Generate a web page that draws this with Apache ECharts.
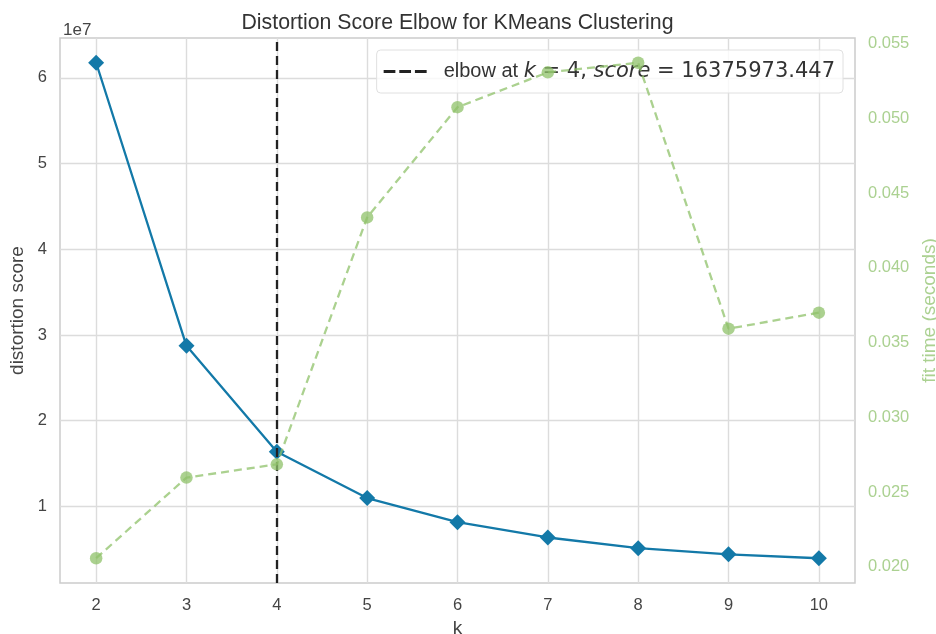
<!DOCTYPE html>
<html>
<head>
<meta charset="utf-8">
<script src="https://cdn.jsdelivr.net/npm/echarts@6/dist/echarts.min.js"></script>
<style>html,body{margin:0;padding:0;background:#fff}#c{width:936px;height:634px}</style>
</head>
<body>
<div id="c"></div>
<script>
const kValues = [2, 3, 4, 5, 6, 7, 8, 9, 10];
const distortion = [61760000, 28730000, 16375973.447, 10970000, 8160000, 6370000, 5120000, 4410000, 3950000];
const fitTime = [0.02058, 0.02597, 0.02686, 0.04337, 0.05074, 0.05307, 0.05371, 0.03593, 0.03700];
const xTicks = [2, 3, 4, 5, 6, 7, 8, 9, 10];
const yTicks = [1e7, 2e7, 3e7, 4e7, 5e7, 6e7];
const y2Ticks = [0.020, 0.025, 0.030, 0.035, 0.040, 0.045, 0.050, 0.055];
const elbowK = 4;
const elbowScore = 16375973.447;

function pad(arr, f) {
  const mn = Math.min(...arr), mx = Math.max(...arr), r = mx - mn;
  return [mn - r * f, mx + r * f];
}
const xr = pad(kValues, 0.05);
const yr = pad(distortion, 0.05);
const y2r = pad(fitTime, 0.05);

const FONT = 'Liberation Sans';
const BLUE = '#1379a8';
const GREEN = 'rgba(143,194,106,0.75)';
const GREEN_TXT = '#abd191';
const GRID = '#dcdcdc';
const TXT = '#444';

const legendName = 'elbow';
const chart = echarts.init(document.getElementById('c'), null, {renderer: 'canvas'});
chart.setOption({
  animation: false,
  backgroundColor: '#ffffff',
  title: [
    {text: 'Distortion Score Elbow for KMeans Clustering', left: 452.5, top: 8, textAlign: 'center',
     textStyle: {fontFamily: FONT, fontSize: 21.3, fontWeight: 'normal', color: '#333'}},
    {text: '1e7', left: 58, top: 17,
     textStyle: {fontFamily: FONT, fontSize: 17, fontWeight: 'normal', color: TXT}}
  ],
  grid: {left: 60, right: 81, top: 38, bottom: 51, outerBoundsMode: 'none', containLabel: false,
         show: true, borderColor: '#cccccc', borderWidth: 1.5, backgroundColor: 'transparent'},
  legend: {
    data: [{name: legendName, icon: 'path://M0,0h12v3h-12z M16,0h12v3h-12z M32,0h12v3h-12z'}],
    right: 93, top: 50, z: 3,
    padding: [11, 8, 11, 7],
    backgroundColor: 'rgba(255,255,255,0.8)', borderColor: '#e0e0e0', borderWidth: 1, borderRadius: 4,
    itemWidth: 43, itemHeight: 3, itemGap: 10,
    itemStyle: {color: '#222'},
    formatter: function () {
      return '{n|elbow at }{i|k}{m| = 4, }{i|score}{m| = ' + elbowScore.toFixed(3) + '}';
    },
    textStyle: {
      padding: [0, 0, 0, 12],
      rich: {
        n: {fontFamily: FONT, fontSize: 20, color: '#333'},
        i: {fontFamily: 'DejaVu Sans', fontStyle: 'italic', fontSize: 21, color: '#333'},
        m: {fontFamily: 'DejaVu Sans', fontSize: 21, color: '#333'}
      }
    }
  },
  xAxis: {
    type: 'value', min: xr[0], max: xr[1],
    name: 'k', nameLocation: 'middle', nameGap: 31,
    nameTextStyle: {fontFamily: FONT, fontSize: 19, color: TXT},
    axisLine: {show: false}, axisTick: {show: false}, splitLine: {show: false},
    axisLabel: {customValues: xTicks, margin: 14, fontFamily: FONT, fontSize: 16.5, color: TXT,
      formatter: v => String(Math.round(v))}
  },
  yAxis: [
    {
      type: 'value', min: yr[0], max: yr[1], position: 'left',
      name: 'distortion score', nameLocation: 'middle', nameGap: 32, nameRotate: 90,
      nameTextStyle: {fontFamily: FONT, fontSize: 19, color: TXT},
      axisLine: {show: false}, axisTick: {show: false}, splitLine: {show: false},
      axisLabel: {customValues: yTicks, margin: 13, fontFamily: FONT, fontSize: 16.5, color: TXT,
        formatter: v => String(Math.round(v / 1e7))}
    },
    {
      type: 'value', min: y2r[0], max: y2r[1], position: 'right',
      name: 'fit time (seconds)', nameLocation: 'middle', nameGap: 61, nameRotate: 90,
      nameTextStyle: {fontFamily: FONT, fontSize: 19, color: GREEN_TXT},
      axisLine: {show: false}, axisTick: {show: false}, splitLine: {show: false},
      axisLabel: {customValues: y2Ticks, margin: 13, fontFamily: FONT, fontSize: 16.5, color: GREEN_TXT,
        formatter: v => v.toFixed(3)}
    }
  ],
  series: [
    {
      name: 'grid', type: 'line', data: [], z: 1, silent: true, yAxisIndex: 0,
      markLine: {
        silent: true, z: 1, symbol: ['none', 'none'], label: {show: false},
        lineStyle: {color: GRID, width: 1.4, type: 'solid'},
        emphasis: {disabled: true},
        data: xTicks.map(v => ({xAxis: v})).concat(yTicks.map(v => ({yAxis: v})))
      }
    },
    {
      name: 'distortion', type: 'line', yAxisIndex: 0, z: 2,
      data: kValues.map((k, i) => [k, distortion[i]]),
      symbol: 'diamond', symbolSize: [16, 16],
      lineStyle: {color: BLUE, width: 2.3}, itemStyle: {color: BLUE, borderWidth: 0}
    },
    {
      name: legendName, type: 'line', yAxisIndex: 0, z: 3, data: [], symbol: 'none',
      lineStyle: {color: '#222', width: 2.3, type: [9, 5]}, itemStyle: {color: '#222'},
      markLine: {
        silent: true, z: 3, symbol: ['none', 'none'], label: {show: false},
        lineStyle: {color: '#222', width: 2.3, type: [9, 5]},
        data: [{xAxis: elbowK}]
      }
    },
    {
      name: 'fit time', type: 'line', yAxisIndex: 1, z: 5,
      data: kValues.map((k, i) => [k, fitTime[i]]),
      symbol: 'circle', symbolSize: 12.5,
      lineStyle: {color: GREEN, width: 2.3, type: [8, 5]}, itemStyle: {color: GREEN}
    }
  ]
});
</script>
</body>
</html>
